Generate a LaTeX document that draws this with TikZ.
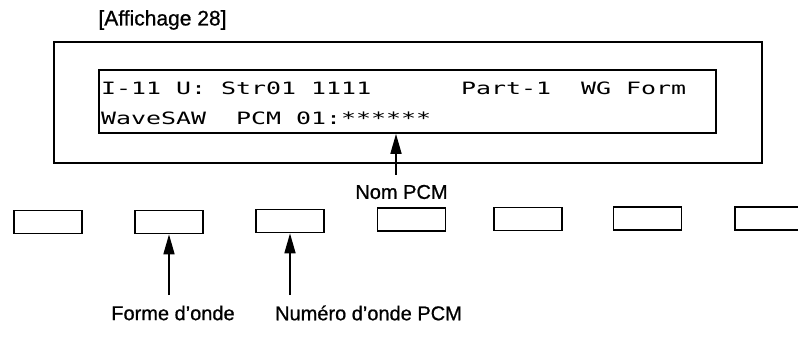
\documentclass[tikz,border=0pt]{standalone}
\usepackage{fontspec}
\setmainfont{Liberation Sans}
\newfontfamily\lblfont[FakeBold=0.8]{Liberation Sans}
\newfontfamily\lcdfont[FakeStretch=1.466]{DejaVu Sans Mono}
\usetikzlibrary{arrows.meta}
\begin{document}
\begin{tikzpicture}[x=1pt,y=-1pt,
  box/.style={draw, line width=1.7pt, inner sep=0pt},
  btn/.style={draw, line width=1.7pt, minimum width=68pt, minimum height=23pt, inner sep=0pt},
  lbl/.style={font=\lblfont\fontsize{20}{24}\selectfont, inner sep=0pt},
  lcdtxt/.style={font=\lcdfont\fontsize{17}{20}\selectfont, inner sep=0pt, anchor=base west},
  arr/.style={line width=1.7pt, -{Triangle[length=20pt,width=11pt]}}]
\useasboundingbox (0,0) rectangle (798,358);
% title
\node[lbl, font=\lblfont\fontsize{21}{24}\selectfont] (title) at (162.5,20) {[Affichage 28]};
% display frames
\node[box, minimum width=708pt, minimum height=121pt] (frame) at (408,102.5) {};
\node[box, minimum width=617pt, minimum height=63pt] (lcd) at (407.5,101.5) {};
% LCD text
\node[lcdtxt] (l1a) at (101,95) {I-11 U: Str01 1111};
\node[lcdtxt] (l1b) at (461,95) {Part-1};
\node[lcdtxt] (l1c) at (581,95) {WG Form};
\node[lcdtxt] (l2a) at (101,125) {WaveSAW};
\node[lcdtxt] (l2b) at (236,125) {PCM 01:******};
% buttons
\node[btn] (b1) at (48,222) {};
\node[btn] (b2) at (169,222) {};
\node[btn] (b3) at (290,221) {};
\node[btn] (b4) at (411.5,219.5) {};
\node[btn] (b5) at (528,219) {};
\node[btn] (b6) at (647.5,218.5) {};
\node[btn] (b7) at (769,218.5) {};
% labels
\node[lbl] (nom) at (401.5,192) {Nom PCM};
\node[lbl] (forme) at (173,313) {Forme d’onde};
\node[lbl] (numero) at (368.5,313) {Numéro d’onde PCM};
% arrows
\coordinate (tn) at (396,175);
\coordinate (t2) at (169,295);
\coordinate (t3) at (290,295);
\draw[arr] (tn) -- (tn |- lcd.south);
\draw[arr] (t2) -- (b2.south);
\draw[arr] (t3) -- (b3.south);
\end{tikzpicture}
\end{document}
